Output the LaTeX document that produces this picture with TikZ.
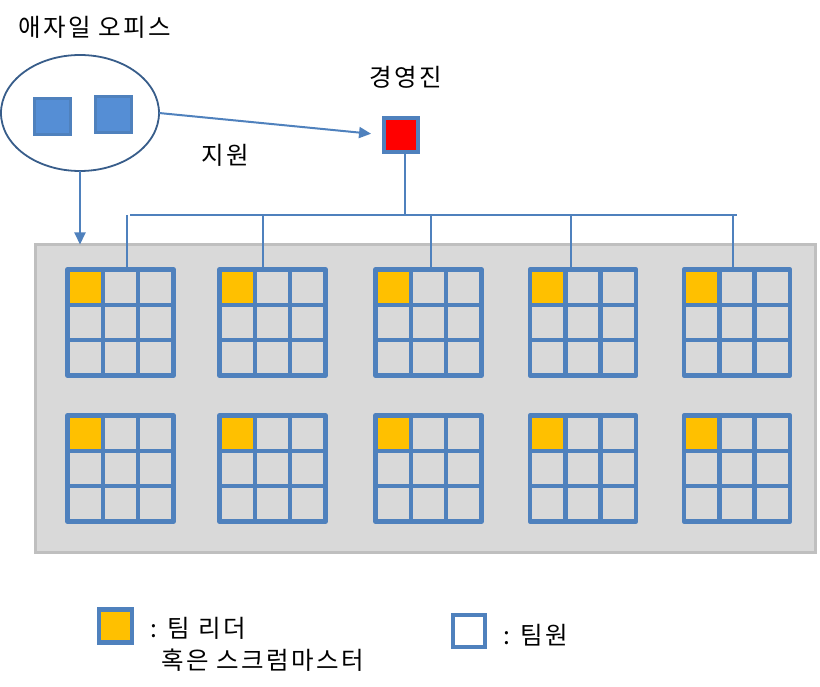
\documentclass[tikz,border=0pt]{standalone}
\usepackage{fontspec}
\newfontfamily\kr[LetterSpace=10]{Noto Sans CJK KR}
\usetikzlibrary{shapes.geometric,calc,arrows.meta}
\definecolor{ofblue}{RGB}{79,129,189}
\definecolor{darkblue}{RGB}{56,93,138}
\definecolor{sqblue}{RGB}{85,142,213}
\definecolor{gold}{RGB}{255,192,0}
\definecolor{boxgray}{RGB}{217,217,217}
\definecolor{boxedge}{RGB}{191,191,191}
\tikzset{
  gridcell/.style={rectangle, minimum size=106pt, inner sep=0pt, outer sep=0pt, draw=none},
  gridline/.style={draw=ofblue, line width=4.5pt, line join=round},
  conn/.style={draw=ofblue, line width=2pt},
  arr/.style={conn, -{Triangle[length=12pt,width=11pt]}},
  lbl/.style={font=\kr\fontsize{24.5}{28}\selectfont, inner sep=0pt, text=black},
}
\newcommand\teamgrid[3]{%
  \node[gridcell] (#1) at (#2,#3) {};
  \fill[gold] (#1.north west) rectangle ($(#1.north west)!0.3333!(#1.south east)$);
  \foreach \f in {0.3333,0.6667} {
    \draw[gridline] ($(#1.north west)!\f!(#1.north east)$) -- ($(#1.south west)!\f!(#1.south east)$);
    \draw[gridline] ($(#1.north west)!\f!(#1.south west)$) -- ($(#1.north east)!\f!(#1.south east)$);
  }
  \draw[gridline] (#1.north west) rectangle (#1.south east);
}
\begin{document}
\begin{tikzpicture}[x=1pt,y=-1pt]
\useasboundingbox[fill=white] (0,0) rectangle (820,687);

% office box
\node[rectangle, draw=boxedge, fill=boxgray, line width=3.5pt, minimum width=780pt, minimum height=308pt, inner sep=0pt, outer sep=0pt] (office) at (425.5,398.5) {};

% team grids
\teamgrid{g1}{120.5}{322.5}
\teamgrid{g2}{272.5}{322.5}
\teamgrid{g3}{428.5}{322.5}
\teamgrid{g4}{583}{322.5}
\teamgrid{g5}{737}{322.5}
\teamgrid{g6}{120.5}{468.5}
\teamgrid{g7}{272.5}{468.5}
\teamgrid{g8}{428.5}{468.5}
\teamgrid{g9}{583}{468.5}
\teamgrid{g10}{737}{468.5}

% agile office
\node[ellipse, draw=darkblue, line width=1.8pt, minimum width=158pt, minimum height=116pt, inner sep=0pt, outer sep=0pt] (agile) at (80,113) {};
\node[rectangle, fill=sqblue, draw=ofblue, line width=2.5pt, minimum size=36pt, inner sep=0pt] (a1) at (52.5,116.5) {};
\node[rectangle, fill=sqblue, draw=ofblue, line width=2.5pt, minimum size=36pt, inner sep=0pt] (a2) at (113.5,114.5) {};
\node[lbl, anchor=west] (agilelbl) at (18,27) {애자일 오피스};

% management
\node[rectangle, fill=red, draw=ofblue, line width=4pt, minimum size=34pt, inner sep=0pt, outer sep=0pt] (mgmt) at (401,135) {};
\node[lbl] (mgmtlbl) at (406,77) {경영진};

% arrows
\draw[arr, shorten >=13pt] (agile.east) -- (mgmt.west);
\node[lbl] (support) at (225,155) {지원};
\draw[arr] (agile.south) -- (agile.south |- office.north);

% bus
\coordinate (mtop) at ([xshift=4pt]mgmt.south);
\coordinate (bl) at (130,215);
\coordinate (br) at (737,215);
\draw[conn] (mtop) -- (mtop |- bl);
\draw[conn] (bl) -- (br);
\coordinate (b1) at (127,215);
\coordinate (b2) at (263,215);
\coordinate (b3) at (431,215);
\coordinate (b4) at (571,215);
\coordinate (b5) at (733,215);
\draw[conn] (b1) -- (b1 |- g1.north);
\draw[conn] (b2) -- (b2 |- g2.north);
\draw[conn] (b3) -- (b3 |- g3.north);
\draw[conn] (b4) -- (b4 |- g4.north);
\draw[conn] (b5) -- (b5 |- g5.north);

% legend
\node[rectangle, fill=gold, draw=ofblue, line width=4.5pt, minimum size=33pt, inner sep=0pt] (leglead) at (115.5,626) {};
\node[lbl, anchor=west] (leadtxt) at (150,628) {: 팀 리더};
\node[lbl, anchor=west] (leadtxt2) at (161,660) {혹은 스크럼마스터};
\node[rectangle, fill=white, draw=ofblue, line width=4.5pt, minimum size=32pt, inner sep=0pt] (legmem) at (469,631) {};
\node[lbl, anchor=west] (memtxt) at (503,635) {: 팀원};
\end{tikzpicture}
\end{document}
